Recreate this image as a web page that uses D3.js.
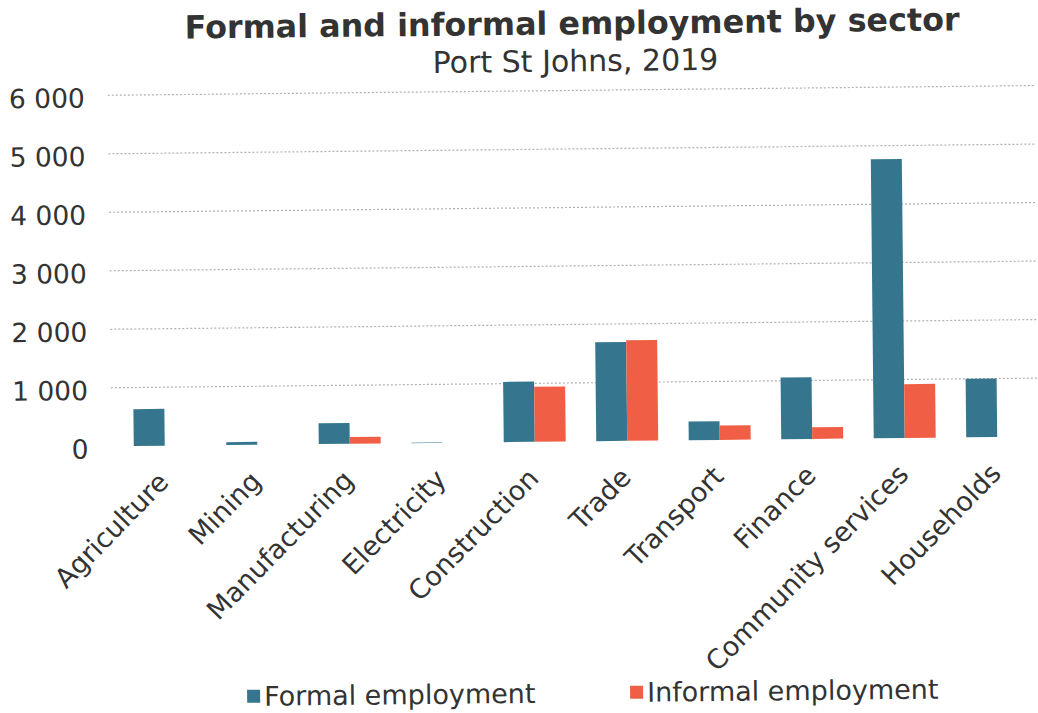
<!DOCTYPE html>
<html>
<head>
<meta charset="utf-8">
<script src="https://cdn.jsdelivr.net/npm/d3@7/dist/d3.min.js"></script>
<style>
  html, body { margin: 0; padding: 0; background: #fff; }
  svg { display: block; }
  text { font-family: "DejaVu Sans", Verdana, sans-serif; fill: #333; }
</style>
</head>
<body>
<svg id="chart" width="1038" height="713"></svg>
<script>
// Employment by sector, Port St Johns 2019
const categories = ["Agriculture", "Mining", "Manufacturing", "Electricity", "Construction",
                    "Trade", "Transport", "Finance", "Community services", "Households"];
const formal   = [630, 50, 355, 8, 1030, 1690, 320, 1055, 4770, 1000];
const informal = [0, 0, 115, 0, 940, 1720, 245, 200, 920, 0];
const seriesNames = ["Formal employment", "Informal employment"];
const seriesColors = ["#35768e", "#f05f45"];
const yTicks = [0, 1000, 2000, 3000, 4000, 5000, 6000];

const svg = d3.select("#chart");
const root = svg.append("g").attr("transform", "rotate(-0.6 519 300)");

const x0 = d3.scaleBand().domain(categories).range([117, 1042])
  .paddingInner(0.33).paddingOuter(0.165);
const x1 = d3.scaleBand().domain(seriesNames).range([0, x0.bandwidth()]);
const y = d3.scaleLinear().domain([0, 6000]).range([442, 91]);

const fmt = v => d3.format(",")(v).replace(/,/g, " ");

// gridlines
root.append("g").selectAll("line").data(yTicks.filter(d => d > 0)).join("line")
  .attr("x1", 110).attr("x2", 1036)
  .attr("y1", d => y(d)).attr("y2", d => y(d))
  .attr("stroke", "#b0b0b0").attr("stroke-width", 1.2)
  .attr("stroke-dasharray", "2,2");

// y axis labels
const yAxis = d3.axisLeft(y).tickValues(yTicks).tickFormat(fmt).tickSize(0).tickPadding(0);
const yg = root.append("g").attr("transform", "translate(87,3)").call(yAxis);
yg.select(".domain").remove();
yg.selectAll("text").style("font-size", "26.5px").attr("fill", "#333");

// bars
const rows = categories.map((c, i) => ({ c, vals: [formal[i], informal[i]] }));
const groups = root.append("g").selectAll("g").data(rows).join("g")
  .attr("transform", d => `translate(${x0(d.c)},0)`);
groups.selectAll("rect").data(d => d.vals.map((v, j) => ({ v, s: seriesNames[j], j })))
  .join("rect")
  .attr("x", d => x1(d.s))
  .attr("width", x1.bandwidth())
  .attr("y", d => y(d.v))
  .attr("height", d => y(0) - y(d.v))
  .attr("fill", d => seriesColors[d.j]);

// category labels
root.append("g").selectAll("text").data(categories).join("text")
  .attr("transform", d => `translate(${x0(d) + x0.bandwidth() / 2 + 5},480) rotate(-45)`)
  .attr("text-anchor", "end")
  .style("font-size", "27px")
  .text(d => d);

// titles
root.append("text").attr("x", 575).attr("y", 35).attr("text-anchor", "middle")
  .style("font-size", "31.8px").style("font-weight", "bold").text("Formal and informal employment by sector");
root.append("text").attr("x", 578).attr("y", 72).attr("text-anchor", "middle")
  .style("font-size", "30px").text("Port St Johns, 2019");

// legend
const legendX = [243, 626];
const lg = root.append("g").selectAll("g").data(seriesNames).join("g")
  .attr("transform", (d, i) => `translate(${legendX[i]},694)`);
lg.append("rect").attr("x", 0).attr("y", -7).attr("width", 13).attr("height", 13)
  .attr("fill", (d, i) => seriesColors[i]);
lg.append("text").attr("x", 17).attr("y", 9).style("font-size", "27px").text(d => d);
</script>
</body>
</html>
